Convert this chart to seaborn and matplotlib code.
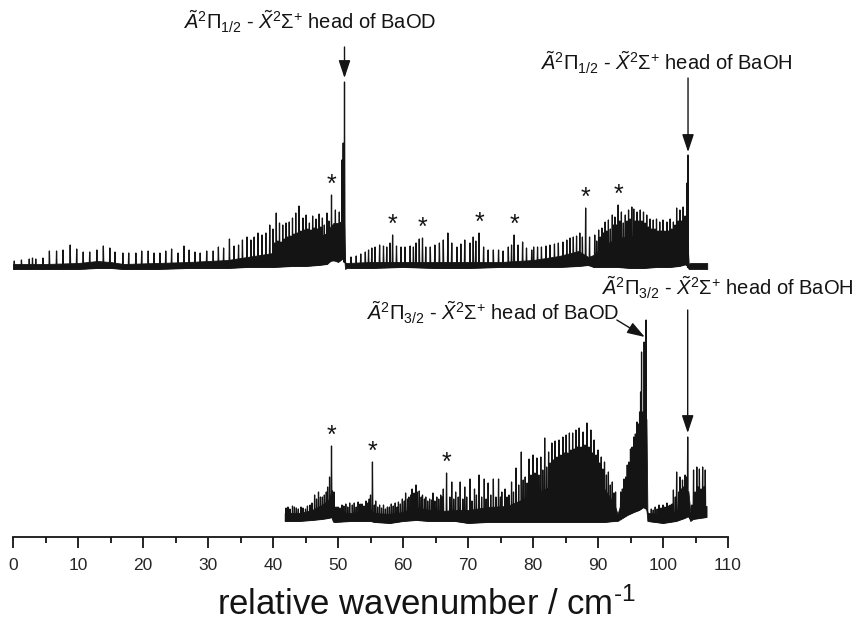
import numpy as np
import pandas as pd
import matplotlib
matplotlib.use("Agg")
import matplotlib.pyplot as plt
import seaborn as sns

# ---------------- data ----------------
# upper spectrum (A2Pi1/2 - X2Sigma+), intensities relative to its own baseline
upper_band_x = [0, 5, 10, 13, 15, 17, 22, 27, 30, 33, 36, 40, 43, 45, 47, 48.3, 48.8, 49.3, 50.0, 50.6,
                50.85, 51.1, 51.3, 55, 60, 65, 70, 75, 80, 84, 87, 88.5, 89.3, 91, 93, 95, 97, 99, 101, 102.5,
                103.6, 103.95, 104.2, 106.8]
upper_band_lo = [18, 18, 18, 19, 19, 18, 18, 19, 19, 19, 20, 20, 21, 21, 22, 23, 26, 27, 25, 28,
                 35, 18, 19, 19, 20, 19, 19, 20, 20, 20, 21, 22, 20, 20, 20, 19, 19, 20, 20, 21,
                 23, 18, 18, 18]
upper_band_hi = [23, 23, 24, 26, 25, 23, 24, 25, 26, 27, 30, 34, 40, 45, 50, 54, 60, 64, 64, 66,
                 85, 24, 24, 25, 25, 25, 25, 25, 27, 31, 36, 30, 32, 42, 49, 51, 49, 47, 48, 55,
                 63, 23, 24, 24]
upper_peak_x = [0.2, 1.3, 2.5, 3.0, 3.5, 4.6, 5.6, 6.7, 7.7, 8.8, 9.8, 10.8, 11.8, 12.9, 13.9, 14.9, 15.7,
                16.9, 17.8, 18.9, 19.8, 20.8, 21.7, 22.6, 23.5, 24.4, 25.4, 26.3, 27.1,
                28.0, 28.8, 29.8, 30.8, 31.6, 32.4, 33.3, 34.0, 34.7, 35.3, 36.0, 36.6, 37.1, 37.7, 38.3,
                38.9, 39.5, 40.0, 40.5, 41.0, 41.5, 42.0, 42.5, 43.0, 43.5, 44.0, 44.6, 45.1, 45.6, 46.1,
                46.6, 47.1, 47.6, 48.3, 49.0, 49.6, 50.2, 50.6, 50.8, 51.0,
                52.0, 52.8, 53.5, 54.2, 54.7, 55.2, 55.7, 56.4, 57.0, 57.5, 58.0, 58.4, 59.0, 59.7, 60.3,
                61.1, 61.6, 62.0, 62.5, 63.0, 63.5, 64.2, 64.9, 65.6, 66.2, 66.9, 67.5, 68.3, 68.9, 69.5,
                70.3, 70.8, 71.2, 71.7, 72.4, 73.1, 73.9, 74.7, 75.4, 76.2, 76.7, 77.1, 77.7, 78.4, 79.0,
                79.8, 80.1, 80.7, 81.3, 82.0, 82.6, 83.3, 83.9, 84.6, 85.2, 85.7, 86.2, 86.7, 87.2, 87.6,
                88.1, 88.7, 89.5, 90.1, 90.6, 91.1, 91.6, 92.2, 92.6, 93.1, 93.6, 94.2, 94.7, 95.2, 95.5,
                96.0, 96.5, 97.0, 97.5, 98.0, 98.5, 99.0, 99.5, 100.0, 100.6, 101.1, 101.6, 102.1, 102.6,
                103.1, 103.7, 103.85]
upper_peak_y = [26, 27, 28, 29, 28, 29, 36, 36, 37, 42, 38, 35, 35, 37, 41, 39, 35,
                34, 34, 34, 36, 36, 34, 34, 36, 38, 34, 41, 37,
                35, 34, 36, 36, 40, 39, 48, 41, 42, 47, 50, 47, 50, 54, 52,
                54, 62, 58, 74, 64, 62, 64, 65, 69, 74, 81, 69, 72, 64, 71,
                68, 73, 69, 74, 92, 77, 75, 127, 144, 205,
                30, 31, 33, 35, 37, 39, 40, 42, 41, 40, 44, 52, 41, 40, 40,
                41, 40, 44, 48, 49, 40, 40, 42, 44, 47, 54, 44, 40, 43, 47,
                44, 50, 46, 54, 40, 37, 37, 37, 36, 40, 42, 52, 42, 45, 39,
                37, 40, 40, 40, 41, 42, 43, 44, 45, 47, 49, 50, 51, 54, 50,
                79, 50, 52, 57, 59, 65, 67, 72, 70, 82, 75, 72, 77, 80, 78,
                75, 77, 75, 72, 68, 67, 68, 65, 67, 65, 68, 65, 79, 77,
                80, 104, 132]
# weaker interleaved lines in the congested parts of the upper spectrum
upper_weak_x = [40.25, 40.75, 41.25, 41.75, 42.25, 42.75, 43.25, 43.75, 44.3, 44.85, 45.35, 45.85, 46.35,
                46.85, 47.35, 47.9, 48.6,
                89.8, 90.35, 90.85, 91.35, 91.9, 92.4, 92.85, 93.35, 93.9, 94.45, 94.95, 95.75, 96.25,
                96.75, 97.25, 97.75, 98.25, 98.75, 99.25, 99.75, 100.3, 100.85, 101.35, 101.85, 102.35,
                102.85, 103.4]
upper_weak_y = [44, 46, 45, 48, 50, 51, 53, 54, 56, 57, 58, 57, 59,
                58, 60, 62, 66,
                46, 50, 54, 56, 58, 62, 62, 66, 64, 66, 68, 66, 66,
                66, 64, 60, 58, 58, 56, 56, 56, 56, 58, 62, 66,
                66, 71]
upper_marked = [49.0, 58.4, 63.0, 71.7, 77.1, 88.1, 93.1]

# lower spectrum (A2Pi3/2 - X2Sigma+)
lower_band_x = [41.8, 44, 46, 47.5, 48.5, 49.1, 49.4, 52, 55, 55.6, 58, 60, 62, 64, 66, 68, 70, 73, 76, 80,
                84, 87, 89, 91, 92.5, 93.0, 93.5, 94.5, 95.5, 96.3, 97.0, 97.45, 97.6, 100, 102, 103.3,
                103.9, 104.2, 104.6, 106.7]
lower_band_lo = [16, 16, 17, 18, 19, 20, 15, 16, 16, 15, 14, 16, 17, 16, 16, 16, 14, 15, 15, 15,
                 15, 15, 15, 15, 16, 16, 18, 22, 25, 27, 30, 28, 16, 14, 16, 19,
                 21, 16, 18, 20]
lower_band_hi = [24, 24, 27, 32, 37, 47, 24, 24, 27, 24, 23, 25, 30, 27, 26, 27, 27, 30, 31, 42,
                 55, 62, 60, 48, 33, 23, 33, 52, 78, 102, 112, 118, 24, 23, 26, 38,
                 46, 25, 31, 31]
lower_peak_x = [42.3, 43.0, 43.6, 44.3, 45.0, 45.7, 46.4, 47.0, 47.6, 48.2, 48.7, 49.0, 49.4, 50.0, 50.6,
                51.2, 51.8, 52.5, 53.1, 53.7, 54.3, 54.8, 55.3, 55.8, 56.4, 57.0, 57.6, 58.2, 58.8, 59.3,
                59.9, 60.4, 60.9, 61.4, 62.0, 62.5, 63.0, 63.5, 64.1, 64.6, 65.2, 65.8, 66.2, 66.7, 67.5,
                68.1, 68.8, 69.5, 70.3, 71.0, 71.7, 72.5, 73.1, 73.9, 74.7, 75.2, 75.7, 76.0, 76.7, 77.4,
                78.2, 78.8, 79.4, 80.0, 80.6, 81.2, 81.8, 82.4, 82.9, 83.4, 84.0, 84.6, 85.1, 85.6, 86.1,
                86.6, 87.1, 87.7, 88.3, 88.9, 89.4, 90.0, 90.5, 91.0, 91.6, 92.2, 92.7,
                93.5, 94.0, 94.5, 95.0, 95.5, 96.0, 96.4, 96.7, 97.1, 97.4,
                98.2, 98.8, 99.4, 100.0, 100.6, 101.1, 101.6, 102.1, 102.6, 103.0, 103.4, 103.8,
                104.7, 105.2, 105.6, 106.1, 106.5]
lower_peak_y = [30, 31, 29, 30, 28, 32, 42, 45, 40, 45, 60, 91, 45, 30, 32,
                33, 34, 34, 35, 33, 36, 38, 75, 36, 32, 32, 30, 33, 34, 35,
                38, 44, 40, 48, 52, 46, 42, 40, 38, 44, 40, 42, 48, 64, 55,
                45, 55, 50, 58, 48, 62, 58, 54, 58, 58, 45, 48, 40, 55, 69,
                85, 60, 78, 82, 79, 80, 99, 85, 94, 96, 97, 100, 102, 104, 104,
                107, 109, 105, 114, 107, 97, 87, 80, 75, 65, 55, 45,
                45, 58, 72, 88, 100, 115, 125, 185, 195, 217,
                28, 30, 32, 32, 34, 32, 47, 65, 60, 57, 62, 100,
                67, 70, 68, 70, 67]
# weaker interleaved lines and noise spikes of the lower spectrum
lower_weak_x = [42.0, 42.6, 43.3, 43.9, 44.6, 45.3, 46.0, 46.7, 47.3, 47.9, 48.4, 49.7, 50.3, 50.9, 51.5,
                52.2, 52.8, 53.4, 54.0, 54.6, 55.0, 55.6, 56.1, 56.7, 57.3, 57.9, 58.5, 59.1, 59.6, 60.2,
                60.7, 61.2, 61.7, 62.2, 62.8, 63.3, 63.8, 64.4, 64.9, 65.5, 66.0, 67.2, 67.8, 68.5, 69.2,
                69.8, 70.6, 71.3, 72.1, 72.8, 73.5, 74.3, 75.0, 76.3, 77.0,
                77.8, 78.5, 79.1, 79.7, 80.3, 80.9, 81.5, 82.1, 82.65, 83.15, 83.7, 84.3, 84.85, 85.35,
                85.85, 86.35, 86.85, 87.4, 88.0, 88.6, 89.15, 89.7, 90.25, 90.75, 91.3, 91.9, 92.45,
                93.75, 94.25, 94.75, 95.25, 95.75, 96.2, 96.55, 96.9, 97.25,
                98.5, 99.1, 99.7, 100.3, 100.9, 101.4, 101.9, 102.4, 102.8, 103.2, 103.6,
                104.45, 104.95, 105.4, 105.85, 106.3]
lower_weak_y = [29, 28, 30, 28, 29, 31, 34, 38, 40, 42, 50, 30, 29, 31, 30,
                32, 30, 33, 31, 34, 42, 32, 30, 29, 28, 30, 31, 30, 33, 36,
                38, 42, 44, 45, 40, 38, 36, 37, 36, 38, 40, 40, 38, 40, 38,
                40, 36, 42, 40, 38, 42, 40, 40, 42, 45,
                52, 57, 54, 62, 64, 62, 67, 70, 74, 77, 80, 82, 84, 84,
                87, 88, 90, 90, 92, 90, 84, 82, 74, 68, 62, 52, 44,
                48, 60, 75, 90, 103, 113, 145, 125, 170,
                27, 28, 29, 30, 31, 33, 40, 45, 48, 50, 60,
                32, 45, 50, 48, 50]
lower_marked = [49.0, 55.3, 66.7]

UPPER_OFFSET = 250
x_ticks = [0, 10, 20, 30, 40, 50, 60, 70, 80, 90, 100, 110]

# ---------------- style ----------------
sns.set_theme(style="white")
plt.rcParams["font.family"] = ["Liberation Sans", "DejaVu Sans"]
plt.rcParams["mathtext.fontset"] = "custom"
plt.rcParams["mathtext.rm"] = "Liberation Sans"
plt.rcParams["mathtext.it"] = "Liberation Sans:italic"
plt.rcParams["mathtext.bf"] = "Liberation Sans:bold"

fig = plt.figure(figsize=(8.53, 6.22), dpi=100)
ax = fig.add_axes([13 / 853, 85 / 622, 715 / 853, 537 / 622])

INK = "#141414"


def spike_trace(band_x, band_lo, px, py, w=0.07):
    pts = sorted(zip(px, py))
    xs, ys = [], []
    for x0, y0 in pts:
        b = float(np.interp(x0, band_x, band_lo))
        xs += [x0 - w, x0, x0 + w]
        ys += [b, y0, b]
    return xs, ys


def draw_spectrum(band_x, lo, hi, px, py, off):
    lo_o = np.asarray(lo, float) + off
    hi_o = np.asarray(hi, float) + off
    ax.fill_between(band_x, lo_o, hi_o, color=INK, lw=0.6, edgecolor=INK)
    tx, ty = spike_trace(band_x, lo_o, px, np.asarray(py, float) + off)
    df = pd.DataFrame({"x": tx, "y": ty})
    sns.lineplot(data=df, x="x", y="y", estimator=None, sort=False, color=INK, lw=0.9, ax=ax)


draw_spectrum(upper_band_x, upper_band_lo, upper_band_hi,
              upper_peak_x + upper_weak_x, upper_peak_y + upper_weak_y, UPPER_OFFSET)
draw_spectrum(lower_band_x, lower_band_lo, lower_band_hi,
              lower_peak_x + lower_weak_x, lower_peak_y + lower_weak_y, 0)

# asterisks above marked lines
for mx in upper_marked:
    top = upper_peak_y[upper_peak_x.index(mx)] + UPPER_OFFSET
    ax.text(mx, top - 2, "*", ha="center", va="bottom", fontsize=18, color=INK)
for mx in lower_marked:
    top = lower_peak_y[lower_peak_x.index(mx)]
    ax.text(mx, top - 2, "*", ha="center", va="bottom", fontsize=18, color=INK)

# head annotations
arrow = dict(arrowstyle="-|>,head_length=0.9,head_width=0.3", color=INK, lw=1.0, shrinkA=0, shrinkB=0)
fs = 14.5
ua_x = upper_peak_x[upper_peak_y.index(205)]
ua_top = 205 + UPPER_OFFSET
ax.annotate("", xy=(ua_x, ua_top + 4), xytext=(ua_x, ua_top + 35), arrowprops=arrow)
ax.text(45.7, 515, r"$\tilde{A}^2\Pi_{1/2}$ - $\tilde{X}^2\Sigma^{+}$ head of BaOD",
        ha="center", va="center", fontsize=fs, color=INK)

ub_x = upper_peak_x[-1]
ub_top = upper_peak_y[-1] + UPPER_OFFSET
ax.annotate("", xy=(ub_x, ub_top + 3), xytext=(ub_x, ub_top + 77), arrowprops=arrow)
ax.text(100.5, 474, r"$\tilde{A}^2\Pi_{1/2}$ - $\tilde{X}^2\Sigma^{+}$ head of BaOH",
        ha="center", va="center", fontsize=fs, color=INK)

la_x = lower_peak_x[lower_peak_y.index(217)]
ax.annotate("", xy=(la_x - 0.2, 200), xytext=(92.9, 217), arrowprops=arrow)
ax.text(73.8, 224, r"$\tilde{A}^2\Pi_{3/2}$ - $\tilde{X}^2\Sigma^{+}$ head of BaOD",
        ha="center", va="center", fontsize=fs, color=INK)

lb_i = lower_peak_x.index(103.8)
lb_x = lower_peak_x[lb_i]
lb_top = lower_peak_y[lb_i]
ax.annotate("", xy=(lb_x, lb_top + 4), xytext=(lb_x, lb_top + 127), arrowprops=arrow)
ax.text(109.9, 249, r"$\tilde{A}^2\Pi_{3/2}$ - $\tilde{X}^2\Sigma^{+}$ head of BaOH",
        ha="center", va="center", fontsize=fs, color=INK, clip_on=False)

# axes
ax.set_xlim(0, 110)
ax.set_ylim(0, 537)
ax.set_xticks(x_ticks)
ax.set_xticks(np.arange(5, 110, 10), minor=True)
ax.set_yticks([])
for s in ["left", "right", "top"]:
    ax.spines[s].set_visible(False)
ax.spines["bottom"].set_color(INK)
ax.spines["bottom"].set_linewidth(1.3)
ax.tick_params(axis="x", which="major", direction="out", length=8, width=1.3, color=INK,
               labelsize=12.5, pad=7, bottom=True)
ax.tick_params(axis="x", which="minor", direction="out", length=4.5, width=1.3, color=INK, bottom=True)
ax.set_xlabel(r"relative wavenumber / cm$^{\text{-1}}$", fontsize=25, color=INK)
ax.xaxis.set_label_coords((426 - 13) / 715, (537 - 587) / 537)
ax.set_ylabel("")
ax.patch.set_alpha(0)

fig.savefig("out.png", dpi=100)
